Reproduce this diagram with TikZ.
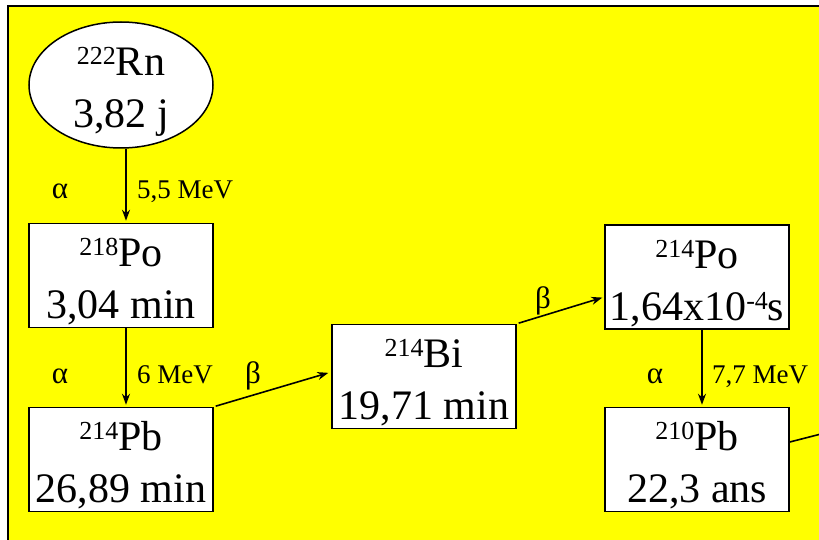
\documentclass[tikz,border=0pt]{standalone}
\usepackage{fontspec}
\setmainfont{LiberationSerif}[Extension=.ttf,UprightFont=*-Regular,BoldFont=*-Bold,ItalicFont=*-Italic]
\usetikzlibrary{arrows.meta,shapes.geometric}
\definecolor{bgyellow}{RGB}{255,255,0}
\newcommand\nsup[1]{\raisebox{11pt}{\fontsize{26}{26}\selectfont #1}}
\tikzset{
  nbox/.style={draw=black,fill=white,line width=1.5pt,rectangle,minimum width=184pt,minimum height=104pt,inner sep=0pt},
  nell/.style={draw=black,fill=white,line width=1.5pt,ellipse,minimum width=184pt,minimum height=126pt,inner sep=0pt},
  big/.style={font=\fontsize{42}{50}\selectfont,inner sep=0pt,anchor=base},
  small/.style={font=\fontsize{27}{32}\selectfont,inner sep=0pt},
  greek/.style={font=\fontsize{31}{36}\selectfont,inner sep=0pt,anchor=base},
  arr/.style={line width=1.6pt,-{Stealth[length=11pt,width=8pt]}},
  conn/.style={line width=1.6pt}
}
\begin{document}
\begin{tikzpicture}[x=1pt,y=-1pt]
\useasboundingbox (0,0) rectangle (819,540);
\clip (0,0) rectangle (819,540);
\fill[white] (0,0) rectangle (819,540);
\fill[bgyellow] (8,6) rectangle (830,550);
\draw[line width=2pt,black] (8,550) -- (8,6) -- (830,6);

% nuclei
\node[nell] (rn) at (121,85) {};
\node[big] (rnA) at (121,76) {\nsup{222}Rn};
\node[big] (rnB) at (121,128) {3,82 j};

\node[nbox] (po218) at (121,275.5) {};
\node[big] (po218A) at (121,266.5) {\nsup{218}Po};
\node[big] (po218B) at (121,318.5) {3,04 min};

\node[nbox] (pb214) at (121,459.5) {};
\node[big] (pb214A) at (121,450.5) {\nsup{214}Pb};
\node[big] (pb214B) at (121,502.5) {26,89 min};

\node[nbox] (bi214) at (424,376.5) {};
\node[big] (bi214A) at (424,367.5) {\nsup{214}Bi};
\node[big] (bi214B) at (424,419.5) {19,71 min};

\node[nbox] (po214) at (697,277) {};
\node[big] (po214A) at (697,268) {\nsup{214}Po};
\node[big] (po214B) at (697,320) {1,64x10\nsup{-4}s};

\node[nbox] (pb210) at (697,459.5) {};
\node[big] (pb210A) at (697,450.5) {\nsup{210}Pb};
\node[big] (pb210B) at (697,502.5) {22,3 ans};

% connectors
\draw[arr,shorten >=2pt] ([xshift=5pt]rn.south) -- ([xshift=5pt]po218.north);
\draw[arr,shorten >=2pt] ([xshift=5pt]po218.south) -- ([xshift=5pt]pb214.north);
\draw[arr,shorten <=2pt,shorten >=3pt] (pb214.north east) -- ([yshift=4.5pt]bi214.west);
\draw[arr,shorten <=2pt,shorten >=2pt] (bi214.north east) -- ([yshift=-20pt]po214.west);
\draw[arr,shorten >=2pt] ([xshift=5pt]po214.south) -- ([xshift=5pt]pb210.north);
\coordinate (pb210out) at (860,424);
\draw[conn] ([yshift=17.5pt]pb210.east) -- (pb210out);

% labels
\node[greek] (l1a) at (60,199) {α};
\node[small,anchor=base west] (l1b) at (137,199) {5,5 MeV};
\node[greek] (l2a) at (60,383) {α};
\node[small,anchor=base west] (l2b) at (137,383) {6 MeV};
\node[greek] (l2c) at (253,383) {β};
\node[greek] (l3a) at (543,308) {β};
\node[greek] (l4a) at (655,383) {α};
\node[small,anchor=base west] (l4b) at (712,383) {7,7 MeV};
\end{tikzpicture}
\end{document}
